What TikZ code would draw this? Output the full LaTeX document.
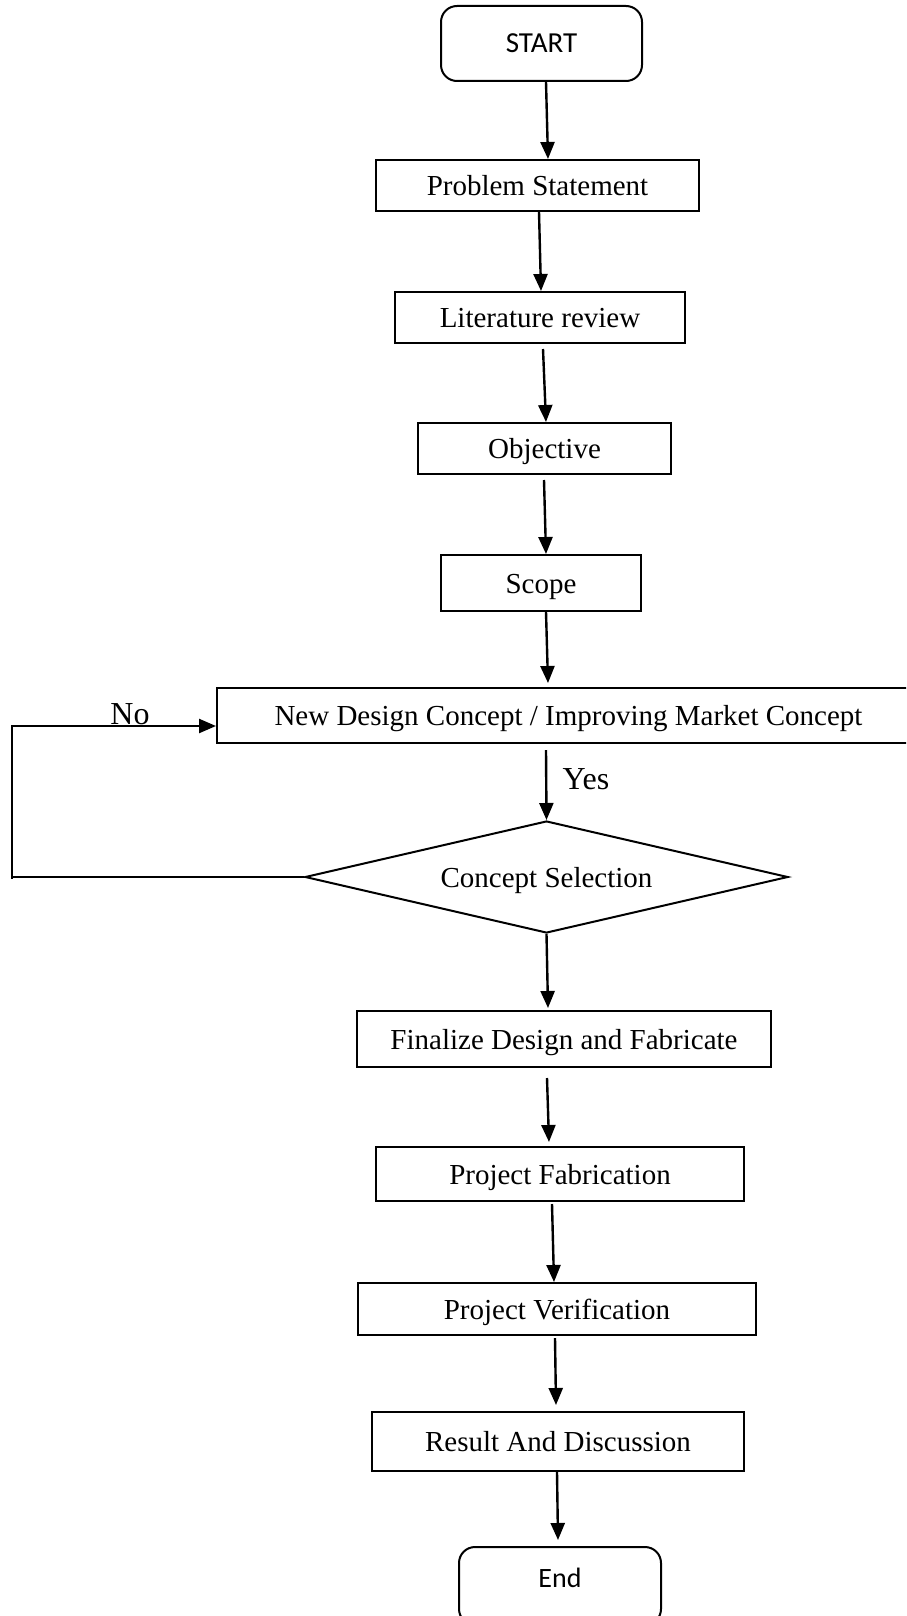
\documentclass[tikz,border=0pt]{standalone}
\usepackage{fontspec}
\setmainfont{Liberation Serif}
\newfontfamily\calib{Carlito}
\usetikzlibrary{shapes.geometric,arrows.meta}
\begin{document}
\begin{tikzpicture}[x=1pt,y=-1pt,
  box/.style={draw,line width=2pt,inner sep=0pt,text height=26pt,text depth=6pt,font=\fontsize{29}{34}\selectfont},
  term/.style={draw,line width=2pt,inner sep=0pt,rounded corners=16pt,font=\calib\fontsize{29}{34}\selectfont},
  dec/.style={draw,line width=2pt,diamond,inner sep=0pt,aspect=4.3,text height=26pt,text depth=6pt,font=\fontsize{29}{34}\selectfont},
  arr/.style={line width=2.4pt,-{Triangle[length=17pt,width=14pt]}},
  lbl/.style={inner sep=0pt,font=\fontsize{32}{36}\selectfont}]
\useasboundingbox (0,0) rectangle (906,1616);
\clip (0,0) rectangle (906,1616);
\fill[white] (0,0) rectangle (906,1616);
\node[term,minimum width=201pt,minimum height=75pt] (start) at (541.5,43.5) {START};
\node[box,minimum width=323pt,minimum height=51pt] (ps) at (537.5,185.5) {Problem Statement};
\node[box,minimum width=290pt,minimum height=51pt] (lr) at (540,317.5) {Literature review};
\node[box,minimum width=253pt,minimum height=51pt] (obj) at (544.5,448.5) {Objective};
\node[box,minimum width=200pt,minimum height=56pt] (scope) at (541,583) {Scope};
\node[box,minimum width=703pt,minimum height=55pt] (nd) at (568.5,715.5) {New Design Concept / Improving Market Concept};
\node[dec,minimum width=483pt,minimum height=112pt] (dia) at (546.5,877) {Concept Selection};
\node[box,minimum width=414pt,minimum height=56pt] (fin) at (564,1039) {Finalize Design and Fabricate};
\node[box,minimum width=368pt,minimum height=54pt] (pf) at (560,1174) {Project Fabrication};
\node[box,minimum width=398pt,minimum height=52pt] (pv) at (557,1309) {Project Verification};
\node[box,minimum width=372pt,minimum height=59pt] (rd) at (558,1441.5) {Result And Discussion};
\node[term,minimum width=202pt,minimum height=78pt,text depth=0pt,font=\calib\fontsize{28}{32}\selectfont] (end) at (560,1586) {\raisebox{16pt}{End}};
\draw[arr] ([xshift=4.5pt]start.south) -- ([xshift=10.5pt]ps.north);
\draw[arr] ([xshift=1.5pt]ps.south) -- ([xshift=1pt]lr.north);
\draw[arr] ([xshift=3pt,yshift=-5pt]lr.south) -- ([xshift=1.5pt]obj.north);
\draw[arr] ([xshift=-0.5pt,yshift=-5pt]obj.south) -- ([xshift=5pt]scope.north);
\draw[arr] ([xshift=5pt]scope.south) -- ([xshift=-20.5pt,yshift=4pt]nd.north);
\draw[arr] ([xshift=-22.5pt,yshift=-6pt]nd.south) -- (dia.north);
\draw[arr] (dia.south) -- ([xshift=-16pt,yshift=2pt]fin.north);
\draw[arr] ([xshift=-17pt,yshift=-10pt]fin.south) -- ([xshift=-11pt,yshift=4pt]pf.north);
\draw[arr] ([xshift=-8pt,yshift=-2pt]pf.south) -- ([xshift=-3pt]pv.north);
\draw[arr] ([xshift=-2pt,yshift=-2pt]pv.south) -- ([xshift=-2pt,yshift=6pt]rd.north);
\draw[arr] ([xshift=-1pt]rd.south) -- ([xshift=-2pt,yshift=6pt]end.north);
\coordinate (lb) at (12,877);
\coordinate (lt) at (12,726);
\draw[line width=2pt] (dia.west) -- (lb) -- ([yshift=-2pt]lb);
\draw[arr] (lb) -- (lt) -- (nd.west |- lt);
\node[lbl,anchor=south] (no) at (130,725) {No};
\node[lbl] (yes) at (586,779) {Yes};
\end{tikzpicture}
\end{document}
